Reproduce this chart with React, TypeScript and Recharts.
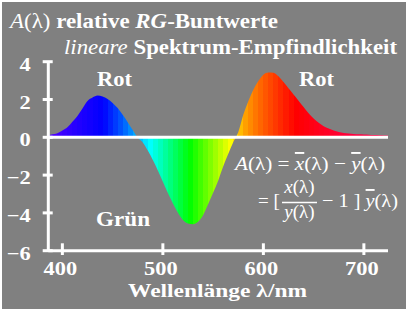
import React from 'react';
import { AreaChart, Area, XAxis, YAxis, ReferenceLine } from 'recharts';

// Wavelength (nm) and relative RG chromatic value A(λ)
const wavelengths = [
  386, 390, 395, 400, 405, 410, 415, 420, 425, 430, 435, 440, 445, 450, 455, 460, 465, 470, 475,
  480, 485, 490, 495, 500, 505, 510, 515, 520, 525, 530, 535, 540, 545, 550, 555, 560, 565, 570,
  575, 580, 585, 590, 595, 600, 605, 610, 615, 620, 625, 630, 635, 640, 645, 650, 655, 660, 665,
  670, 675, 680, 685, 690, 695, 700, 705, 710, 715, 720, 724,
];
const aValues = [
  0.12, 0.16, 0.22, 0.36, 0.53, 0.82, 1.13, 1.52, 1.92, 2.1, 2.21, 2.16, 2.03, 1.82, 1.55, 1.19, 0.8, 0.38, -0.03,
  -0.27, -0.7, -1.2, -1.75, -2.35, -2.95, -3.5, -3.99, -4.37, -4.56, -4.6, -4.47, -4.12, -3.54, -2.94, -2.3, -1.55, -0.89, -0.26,
  0.27, 1.19, 1.91, 2.51, 2.98, 3.31, 3.43, 3.42, 3.23, 2.93, 2.6, 2.27, 1.94, 1.6, 1.27, 0.99, 0.77, 0.59, 0.46,
  0.36, 0.28, 0.23, 0.2, 0.18, 0.16, 0.15, 0.14, 0.12, 0.11, 0.1, 0.09,
];
const xTicks = [400, 500, 600, 700];
const yTicks = [-6, -4, -2, 0, 2, 4];
const xDomain = [386, 724];
const yDomain = [-6, 4];

const data = wavelengths.map((wl, i) => ({ wl, a: aValues[i] }));

const SERIF = '"Liberation Serif", "Times New Roman", Times, serif';
const GRAY = '#808080';

// hue knots (nm, hue deg) for spectral stripe colours
const hueKnots: [number, number][] = [
  [380, 262], [410, 250], [440, 240], [460, 218], [487, 180], [527, 120], [568, 60],
  [575, 48], [580, 40], [590, 30], [600, 22], [610, 15], [620, 8], [632, 0], [660, -8], [690, -15], [730, -18],
];
function spectrumColor(l: number): string {
  let h = hueKnots[0][1];
  for (let i = 0; i < hueKnots.length - 1; i++) {
    const [l0, h0] = hueKnots[i];
    const [l1, h1] = hueKnots[i + 1];
    if (l >= l0 && l <= l1) {
      h = h0 + ((l - l0) / (l1 - l0)) * (h1 - h0);
      break;
    }
    if (l > l1) h = h1;
  }
  h = ((h % 360) + 360) % 360;
  return `hsl(${h.toFixed(1)}, 100%, 50%)`;
}

function buildStops() {
  const [lo, hi] = xDomain;
  const out: React.ReactNode[] = [];
  for (let s = 385; s < hi; s += 5) {
    const c = spectrumColor(s + 2.5);
    const o1 = Math.max(0, (s - lo) / (hi - lo));
    const o2 = Math.min(1, (s + 5 - lo) / (hi - lo));
    out.push(<stop key={s + 'a'} offset={o1} stopColor={c} />);
    out.push(<stop key={s + 'b'} offset={o2} stopColor={c} />);
  }
  return out;
}

const XTick = (props: any) => {
  const { x, y, payload } = props;
  return (
    <g>
      <line x1={x} x2={x} y1={y - 7.4} y2={y + 4.3} stroke="#fff" strokeWidth={3} />
      <text
        transform={`translate(${x - 2},${y + 24.5}) scale(1.18,1)`}
        textAnchor="middle"
        fill="#fff"
        fontFamily={SERIF}
        fontWeight="bold"
        fontSize={19}
      >
        {payload.value}
      </text>
    </g>
  );
};

const YTick = (props: any) => {
  const { x, y, payload } = props;
  const v = payload.value as number;
  const label = v < 0 ? '\u2212' + Math.abs(v) : String(v);
  return (
    <g>
      <line x1={x - 5.6} x2={x + 4.4} y1={y} y2={y} stroke="#fff" strokeWidth={3} />
      <text
        transform={`translate(${x - 17.5},${y + 9}) scale(1.18,1)`}
        textAnchor="end"
        fill="#fff"
        fontFamily={SERIF}
        fontWeight="bold"
        fontSize={19}
      >
        {label}
      </text>
    </g>
  );
};

export default function App() {
  return (
    <div style={{ position: 'absolute', left: 0, top: 0, width: 417, height: 309, background: '#fff', overflow: 'hidden' }}>
      <div style={{ position: 'absolute', left: 2, top: 2, width: 404, height: 307, background: GRAY }} />
      <div style={{ position: 'absolute', left: 0, top: 0 }}>
        <AreaChart width={417} height={309} data={data} margin={{ top: 61.7, right: 29, bottom: 0, left: 0 }}>
          <defs>
            <linearGradient id="spec" x1="0" y1="0" x2="1" y2="0">
              {buildStops()}
            </linearGradient>
          </defs>
          <XAxis
            dataKey="wl"
            type="number"
            domain={xDomain}
            allowDataOverflow
            ticks={xTicks}
            interval={0}
            height={58.3}
            axisLine={{ stroke: '#fff', strokeWidth: 3 }}
            tickLine={false}
            tickSize={0}
            tickMargin={0}
            tick={(p: any) => <XTick {...p} />}
          />
          <YAxis
            type="number"
            domain={yDomain}
            allowDataOverflow
            ticks={yTicks}
            interval={0}
            width={48.3}
            axisLine={{ stroke: '#fff', strokeWidth: 3 }}
            tickLine={false}
            tickSize={0}
            tickMargin={0}
            tick={(p: any) => <YTick {...p} />}
          />
          <Area
            type="monotone"
            dataKey="a"
            fill="url(#spec)"
            fillOpacity={1}
            stroke="none"
            baseValue={0}
            isAnimationActive={false}
          />
          <ReferenceLine y={0} stroke="#fff" strokeWidth={3} />
        </AreaChart>
      </div>
      <svg width={417} height={309} style={{ position: 'absolute', left: 0, top: 0, pointerEvents: 'none' }}>
        <g fill="#fff" fontFamily={SERIF}>
          <text x={10} y={28} fontSize={20} textLength={268} lengthAdjust="spacingAndGlyphs">
            <tspan fontStyle="italic">A</tspan>
            <tspan>(λ) </tspan>
            <tspan fontWeight="bold">relative </tspan>
            <tspan fontWeight="bold" fontStyle="italic">RG</tspan>
            <tspan fontWeight="bold">-Buntwerte</tspan>
          </text>
          <text x={64} y={54} fontSize={20} textLength={333} lengthAdjust="spacingAndGlyphs">
            <tspan fontStyle="italic">lineare </tspan>
            <tspan fontWeight="bold">Spektrum-Empfindlichkeit</tspan>
          </text>
          <text x={97} y={86} fontSize={21} fontWeight="bold" textLength={35} lengthAdjust="spacingAndGlyphs">Rot</text>
          <text x={299} y={86} fontSize={21} fontWeight="bold" textLength={35} lengthAdjust="spacingAndGlyphs">Rot</text>
          <text x={96} y={226} fontSize={21} fontWeight="bold" textLength={54} lengthAdjust="spacingAndGlyphs">Grün</text>
          <text x={217.5} y={297} fontSize={19} fontWeight="bold" textAnchor="middle" textLength={179} lengthAdjust="spacingAndGlyphs">
            Wellenlänge λ/nm
          </text>
          {/* formula */}
          <text x={235} y={170} fontSize={19} textLength={150} lengthAdjust="spacingAndGlyphs">
            <tspan fontStyle="italic">A</tspan>
            <tspan>(λ) = </tspan>
            <tspan fontStyle="italic" style={{ textDecoration: 'overline' }}>x</tspan>
            <tspan>(λ) − </tspan>
            <tspan fontStyle="italic" style={{ textDecoration: 'overline' }}>y</tspan>
            <tspan>(λ)</tspan>
          </text>
          <text x={258} y={207} fontSize={19}>= [</text>
          <text x={299.5} y={193} fontSize={19} textAnchor="middle">
            <tspan fontStyle="italic">x</tspan>(λ)
          </text>
          <line x1={282} x2={317} y1={202.5} y2={202.5} stroke="#fff" strokeWidth={1.5} />
          <text x={299.5} y={218} fontSize={19} textAnchor="middle">
            <tspan fontStyle="italic">y</tspan>(λ)
          </text>
          <text x={322} y={207} fontSize={19} textLength={76} lengthAdjust="spacingAndGlyphs">
            <tspan>− 1 ] </tspan>
            <tspan fontStyle="italic" style={{ textDecoration: 'overline' }}>y</tspan>
            <tspan>(λ)</tspan>
          </text>
        </g>
      </svg>
    </div>
  );
}
